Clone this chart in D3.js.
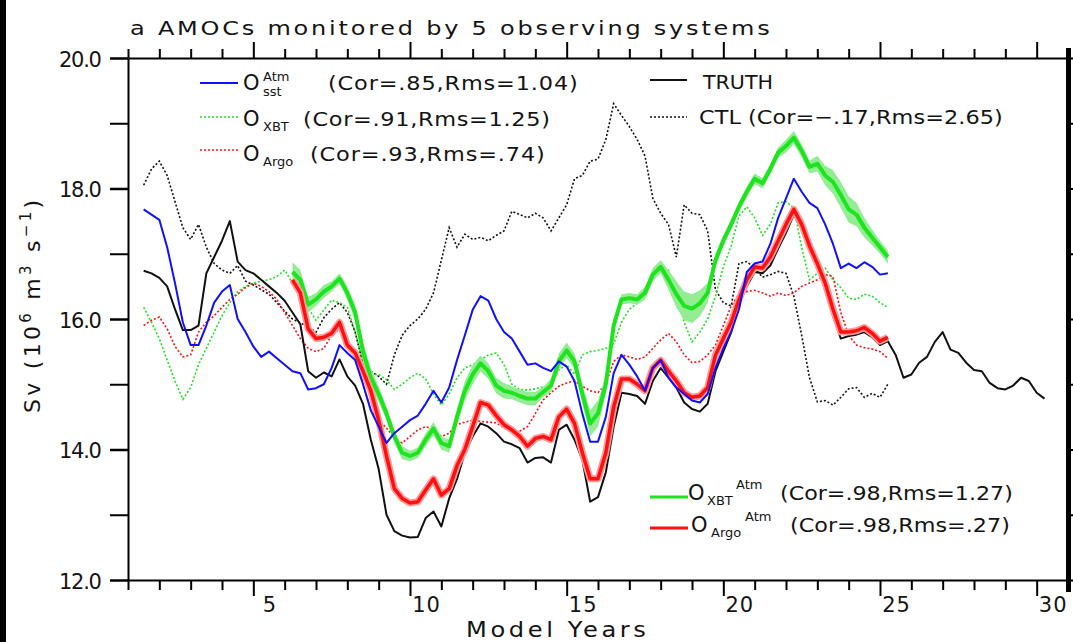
<!DOCTYPE html>
<html>
<head>
<meta charset="utf-8">
<script src="https://cdn.jsdelivr.net/npm/d3@7"></script>
<style>
  html, body { margin: 0; padding: 0; background: #fff; }
  svg { display: block; }
  text { font-family: "DejaVu Sans", "Liberation Sans", sans-serif; fill: #141414; }
</style>
</head>
<body>
<svg id="chart" width="1073" height="642"></svg>
<script>
// Sampling: quarter-year steps. Observing-system runs start at year 1.5,
// the assimilation runs with atmosphere (Atm) start at year 6.25.
const STEP = 0.25;
const START_OBS = 1.5;
const START_ATM = 6.25;

// AMOC strength (Sv)
const truth = [
  16.74, 16.70,
  16.63, 16.50, 16.15, 15.83,
  15.83, 15.90, 16.70, 16.95,
  17.20, 17.50, 16.88, 16.75,
  16.70, 16.60, 16.50, 16.40,
  16.28, 16.10, 15.92, 15.20,
  15.10, 15.18, 15.12, 15.38,
  15.12, 14.98, 14.70, 14.15,
  13.70, 13.00, 12.75, 12.68,
  12.65, 12.66, 12.95, 13.05,
  12.82, 13.25, 13.55, 13.95,
  14.20, 14.40, 14.35, 14.25,
  14.12, 14.08, 14.02, 13.80,
  13.87, 13.88, 13.80, 14.30,
  14.38, 14.15, 13.84, 13.20,
  13.27, 13.65, 14.35, 14.87,
  14.85, 14.82, 14.70, 15.05,
  15.25, 15.10, 14.95, 14.72,
  14.62, 14.58, 14.70, 15.20,
  15.50, 15.80, 16.25, 16.50,
  16.72, 16.70, 16.82, 17.08,
  17.32, 17.60, 17.38, 17.08,
  16.80, 16.45, 16.05, 15.70,
  15.74, 15.76, 15.80, 15.72,
  15.60, 15.66, 15.45, 15.10,
  15.15, 15.33, 15.42, 15.65,
  15.80, 15.53, 15.48, 15.33,
  15.22, 15.20, 15.02, 14.94,
  14.92, 14.98, 15.10, 15.05,
  14.87, 14.78
];

const ctl = [
  18.05, 18.30,
  18.42, 18.20, 17.80, 17.40,
  17.22, 17.45, 17.10, 16.85,
  16.75, 16.70, 16.82, 16.58,
  16.52, 16.45, 16.38, 16.25,
  16.12, 16.00, 15.94, 15.88,
  15.80, 16.02, 16.15, 16.25,
  16.10, 15.80, 15.30, 15.20,
  15.12, 15.00, 15.45, 15.75,
  15.90, 16.00, 16.15, 16.40,
  16.90, 17.40, 17.10, 17.30,
  17.22, 17.25, 17.20, 17.28,
  17.35, 17.65, 17.60, 17.55,
  17.62, 17.55, 17.35, 17.55,
  17.75, 18.15, 18.20, 18.42,
  18.45, 18.75, 19.30, 19.12,
  18.95, 18.75, 18.50, 17.85,
  17.62, 17.45, 16.95, 17.75,
  17.62, 17.60, 17.35, 16.45,
  16.25, 16.20, 16.85, 16.88,
  16.78, 16.64, 16.68, 16.73,
  16.70, 16.35, 15.75, 15.10,
  14.73, 14.75, 14.68, 14.80,
  14.93, 14.95, 14.80, 14.86,
  14.80, 15.00
];

const oSstAtm = [
  17.68, 17.60,
  17.52, 17.10, 16.55, 15.95,
  15.60, 15.60, 15.90, 16.25,
  16.42, 16.52, 16.00, 15.80,
  15.58, 15.42, 15.50, 15.40,
  15.30, 15.20, 15.17, 14.92,
  14.94, 15.00, 15.25, 15.60,
  15.48, 15.37, 15.00, 14.60,
  14.35, 14.10, 14.25, 14.35,
  14.45, 14.52, 14.70, 14.90,
  14.72, 14.95, 15.37, 15.75,
  16.14, 16.35, 16.28, 16.00,
  15.80, 15.70, 15.50, 15.30,
  15.32, 15.25, 15.20, 15.35,
  15.27, 15.05, 14.55, 14.12,
  14.12, 14.50, 15.17, 15.45,
  15.30, 15.12, 14.90, 15.25,
  15.37, 15.10, 14.95, 14.85,
  14.75, 14.72, 14.85, 15.25,
  15.55, 15.80, 16.15, 16.72,
  16.85, 16.88, 17.15, 17.55,
  17.85, 18.15, 17.95, 17.78,
  17.70, 17.45, 17.15, 16.78,
  16.85, 16.78, 16.87, 16.80,
  16.68, 16.70
];

const oXbt = [
  16.18, 15.95,
  15.70, 15.37, 15.05, 14.77,
  14.95, 15.30, 15.55, 15.80,
  16.05, 16.25, 16.42, 16.50,
  16.55, 16.58, 16.60, 16.65,
  16.75, 16.55, 16.40, 16.17,
  15.98, 16.14, 16.29, 16.25,
  16.18, 15.80, 15.35, 15.15,
  15.15, 15.07, 14.92, 15.00,
  15.10, 15.17, 15.08, 14.85,
  14.68, 14.85, 15.10, 15.25,
  15.30, 15.37, 15.45, 15.48,
  15.30, 15.00, 14.92, 14.91,
  14.93, 14.96, 14.96, 15.22,
  15.30, 15.15, 15.45, 15.50,
  15.52, 15.55, 15.62, 15.95,
  16.15, 16.24, 16.35, 16.62,
  16.78, 16.75, 16.40, 15.95,
  15.65, 15.80, 16.00, 16.35,
  16.80, 17.12, 17.58, 17.72,
  17.55, 17.28, 17.45, 17.78,
  17.80, 17.70, 17.10, 16.60,
  16.70, 16.78, 16.60, 16.48,
  16.32, 16.30, 16.38, 16.35,
  16.25, 16.18
];

const oArgo = [
  15.90, 15.98,
  16.03, 15.85, 15.58, 15.42,
  15.45, 15.80, 15.95, 16.05,
  16.18, 16.30, 16.38, 16.48,
  16.55, 16.50, 16.42, 16.30,
  16.10, 15.90, 15.70, 15.55,
  15.50, 15.55, 15.75, 15.85,
  15.70, 15.45, 15.00, 14.60,
  14.45, 14.33, 14.18, 14.10,
  14.20, 14.30, 14.35, 14.32,
  14.20, 14.25, 14.38, 14.42,
  14.45, 14.43, 14.42, 14.41,
  14.33, 14.27, 14.28, 14.35,
  14.55, 14.76, 14.87, 14.97,
  15.02, 15.05, 14.97, 14.90,
  14.87, 15.00, 15.35, 15.45,
  15.42, 15.38, 15.42, 15.55,
  15.68, 15.78, 15.65, 15.45,
  15.33, 15.35, 15.45, 15.60,
  15.90, 16.20, 16.38, 16.42,
  16.44, 16.40, 16.35, 16.40,
  16.36, 16.40, 16.50, 16.55,
  16.60, 16.68, 16.65, 16.10,
  15.75, 15.60, 15.56, 15.54,
  15.50, 15.40
];

const oXbtAtm = [
  16.72, 16.60, 16.22,
  16.30, 16.42, 16.50, 16.62,
  16.40, 16.10, 15.50, 15.10,
  14.85, 14.55, 14.20, 13.95,
  13.90, 13.95, 14.15, 14.32,
  14.10, 14.05, 14.50, 14.90,
  15.15, 15.32, 15.20, 14.98,
  14.90, 14.87, 14.82, 14.78,
  14.78, 14.88, 14.98, 15.35,
  15.52, 15.35, 14.85, 14.40,
  14.55, 15.00, 15.90, 16.30,
  16.32, 16.30, 16.40, 16.68,
  16.80, 16.60, 16.38, 16.20,
  16.16, 16.24, 16.40, 16.90,
  17.20, 17.45, 17.72, 17.95,
  18.15, 18.08, 18.30, 18.55,
  18.65, 18.78, 18.58, 18.33,
  18.38, 18.20, 18.10, 17.90,
  17.68, 17.60, 17.40, 17.25,
  17.10, 16.95
];

// ensemble spread (half width, Sv) around O_XBT^Atm
const oXbtAtmSpread = [
  0.15, 0.15, 0.12,
  0.10, 0.10, 0.08, 0.08,
  0.10, 0.12, 0.15, 0.15,
  0.12, 0.10, 0.10, 0.10,
  0.08, 0.08, 0.10, 0.10,
  0.10, 0.10, 0.12, 0.15,
  0.15, 0.12, 0.12, 0.12,
  0.12, 0.10, 0.10, 0.10,
  0.10, 0.08, 0.10, 0.12,
  0.12, 0.12, 0.15, 0.20,
  0.20, 0.15, 0.10, 0.08,
  0.08, 0.08, 0.10, 0.10,
  0.10, 0.15, 0.20, 0.22,
  0.22, 0.20, 0.15, 0.10,
  0.08, 0.08, 0.08, 0.08,
  0.08, 0.08, 0.08, 0.08,
  0.10, 0.10, 0.10, 0.10,
  0.12, 0.15, 0.18, 0.20,
  0.20, 0.18, 0.15, 0.12,
  0.10, 0.10
];

const oArgoAtm = [
  16.60, 16.40, 15.85,
  15.70, 15.72, 15.78, 15.95,
  15.60, 15.48, 15.20, 14.90,
  14.45, 13.90, 13.40, 13.25,
  13.18, 13.20, 13.38, 13.55,
  13.30, 13.40, 13.75, 14.00,
  14.35, 14.72, 14.68, 14.52,
  14.38, 14.30, 14.20, 14.05,
  14.17, 14.20, 14.15, 14.50,
  14.62, 14.40, 13.95, 13.55,
  13.55, 13.95, 14.65, 15.08,
  15.08, 15.00, 14.90, 15.25,
  15.37, 15.20, 15.05, 14.87,
  14.80, 14.82, 14.95, 15.45,
  15.70, 15.95, 16.30, 16.60,
  16.80, 16.78, 16.95, 17.20,
  17.45, 17.68, 17.45, 17.12,
  16.85, 16.55, 16.15, 15.80,
  15.80, 15.82, 15.87, 15.78,
  15.66, 15.72
];

const yearTicks = d3.range(1, 32);
const svTicks = d3.range(12, 21);

// ---------------------------------------------------------------
const svg = d3.select("#chart");
const x = d3.scaleLinear().domain([1, 31]).range([128, 1068]);
const y = d3.scaleLinear().domain([12, 20]).range([580, 58]);

const withTime = (vals, t0) => vals.map((v, i) => ({ t: t0 + i * STEP, v }));
const line = d3.line().x(d => x(d.t)).y(d => y(d.v));
const band = d3.area().x(d => x(d.t)).y0(d => y(d.v - d.s)).y1(d => y(d.v + d.s));

// widen a text (slight glyph stretch + tracking) so it spans w pixels
function fit(sel, w, maxStretch) {
  const k0 = maxStretch || 1;
  sel.attr("letter-spacing", 0);
  const n = Array.from(sel.text()).length;
  const nat = sel.node().getComputedTextLength();
  const k = Math.max(1, Math.min(k0, w / nat));
  if (k > 1) {
    const x0 = +sel.attr("x"), y0 = +sel.attr("y");
    sel.attr("x", 0).attr("y", 0).attr("transform", `translate(${x0},${y0}) scale(${k.toFixed(3)},1)`);
  }
  sel.attr("letter-spacing", ((w / k - nat) / Math.max(1, n - 1)).toFixed(2));
  return sel;
}

// frame bar at the left edge
svg.append("rect").attr("x", 0).attr("y", 0).attr("width", 6).attr("height", 642).attr("fill", "#000");

// ---- series ----
const plot = svg.append("g");
const colors = { green: "#1ee41e", greenBand: "#94ec94", red: "#ff1010", redHalo: "#ff9a9a", blue: "#1010ff" };

plot.append("path").datum(withTime(ctl, START_OBS)).attr("d", line)
  .attr("fill", "none").attr("stroke", "#111").attr("stroke-width", 1.6).attr("stroke-dasharray", "2,2");
plot.append("path").datum(withTime(oXbt, START_OBS)).attr("d", line)
  .attr("fill", "none").attr("stroke", colors.green).attr("stroke-width", 1.6).attr("stroke-dasharray", "2,2");
plot.append("path").datum(withTime(oArgo, START_OBS)).attr("d", line)
  .attr("fill", "none").attr("stroke", colors.red).attr("stroke-width", 1.6).attr("stroke-dasharray", "2,2");

const xbtAtmPts = oXbtAtm.map((v, i) => ({ t: START_ATM + i * STEP, v, s: oXbtAtmSpread[i] }));
plot.append("path").datum(xbtAtmPts).attr("d", band).attr("fill", colors.greenBand);
plot.append("path").datum(xbtAtmPts).attr("d", line)
  .attr("fill", "none").attr("stroke", colors.green).attr("stroke-width", 4).attr("stroke-linejoin", "round");

plot.append("path").datum(withTime(truth, START_OBS)).attr("d", line)
  .attr("fill", "none").attr("stroke", "#111").attr("stroke-width", 2).attr("stroke-linejoin", "round");

const argoAtmPts = withTime(oArgoAtm, START_ATM);
plot.append("path").datum(argoAtmPts).attr("d", line)
  .attr("fill", "none").attr("stroke", colors.redHalo).attr("stroke-width", 7).attr("stroke-linejoin", "round");
plot.append("path").datum(argoAtmPts).attr("d", line)
  .attr("fill", "none").attr("stroke", colors.red).attr("stroke-width", 3.5).attr("stroke-linejoin", "round");

plot.append("path").datum(withTime(oSstAtm, START_OBS)).attr("d", line)
  .attr("fill", "none").attr("stroke", colors.blue).attr("stroke-width", 2).attr("stroke-linejoin", "round");

// ---- axes ----
function clean(g) { g.attr("font-family", null).attr("font-size", null); }

const gBottom = svg.append("g").attr("transform", "translate(0,580)")
  .call(d3.axisBottom(x).tickValues(yearTicks).tickSize(10).tickSizeOuter(0)
    .tickFormat(d => d % 5 === 0 ? d : ""));
clean(gBottom);
gBottom.selectAll(".tick line").attr("y2", d => d % 5 === 0 ? 16 : 10).attr("stroke-width", 2);
gBottom.selectAll(".tick text").attr("x", 16).attr("y", 32).attr("dy", 0)
  .style("font-size", "21px").attr("letter-spacing", 1);
gBottom.select(".domain").attr("stroke-width", 2);

const gTop = svg.append("g").attr("transform", "translate(0,58)")
  .call(d3.axisTop(x).tickValues(yearTicks).tickSize(9).tickSizeOuter(0).tickFormat(""));
clean(gTop);
gTop.selectAll(".tick line").attr("y2", d => d % 5 === 0 ? -16 : -9).attr("stroke-width", 2);
gTop.select(".domain").attr("stroke-width", 2);

const gLeft = svg.append("g").attr("transform", "translate(128,0)")
  .call(d3.axisLeft(y).tickValues(svTicks).tickSize(18).tickSizeOuter(0)
    .tickFormat(d => d % 2 === 0 ? d.toFixed(1) : ""));
clean(gLeft);
gLeft.selectAll(".tick line").attr("stroke-width", d => d % 2 === 0 ? 2.5 : 2);
gLeft.selectAll(".tick text").attr("text-anchor", "start").attr("x", -69).attr("y", 8).attr("dy", 0)
  .style("font-size", "21px")
  .each(function (d) { if (d % 2 === 0) fit(d3.select(this), 43); });
gLeft.select(".domain").attr("stroke-width", 2);

const gRight = svg.append("g").attr("transform", "translate(1068,0)")
  .call(d3.axisRight(y).tickValues(svTicks).tickSize(9).tickSizeOuter(0).tickFormat(""));
clean(gRight);
gRight.selectAll(".tick line").attr("stroke-width", 2);
gRight.select(".domain").remove();
svg.append("line").attr("x1", 1068.5).attr("x2", 1068.5).attr("y1", 48).attr("y2", 592)
  .attr("stroke", "#000").attr("stroke-width", 5);

// ---- titles ----
fit(svg.append("text").attr("x", 130).attr("y", 35).style("font-size", "20px")
  .text("a AMOCs monitored by 5 observing systems"), 640, 1.2);

fit(svg.append("text").attr("x", 466).attr("y", 637).style("font-size", "21px")
  .text("Model Years"), 180, 1.15);

const yl = svg.append("text").attr("transform", "translate(39.5,413) rotate(-90)")
  .style("font-size", "22px");
yl.append("tspan").text("Sv (10");
yl.append("tspan").attr("dy", -9).style("font-size", "15px").text("6");
yl.append("tspan").attr("dy", 9).text(" m");
yl.append("tspan").attr("dy", -9).style("font-size", "15px").text("3");
yl.append("tspan").attr("dy", 9).text(" s");
yl.append("tspan").attr("dy", -9).style("font-size", "15px").text("\u22121");
yl.append("tspan").attr("dy", 9).text(")");
fit(yl, 213);

// ---- legends ----
function legendSample(x1, x2, yy, stroke, width, dash) {
  svg.append("line").attr("x1", x1).attr("x2", x2).attr("y1", yy).attr("y2", yy)
    .attr("stroke", stroke).attr("stroke-width", width).attr("stroke-dasharray", dash || null);
}
function txt(xx, yy, s, size, w, k) {
  const t = svg.append("text").attr("x", xx).attr("y", yy).style("font-size", size + "px").text(s);
  if (w) fit(t, w, k || 1.12);
  return t;
}

// upper-left column
legendSample(200, 238, 83, colors.blue, 2);
txt(243, 90, "O", 21);
txt(263, 96, "sst", 13);
txt(263, 81, "Atm", 13);
txt(328, 90, "(Cor=.85,Rms=1.04)", 20, 250);

legendSample(200, 238, 117, colors.green, 1.6, "2,2");
txt(243, 126, "O", 21);
txt(263, 131, "XBT", 13);
txt(303, 126, "(Cor=.91,Rms=1.25)", 20, 247);

legendSample(200, 238, 150, colors.red, 1.6, "2,2");
txt(243, 161, "O", 21);
txt(263, 166, "Argo", 13);
txt(310, 161, "(Cor=.93,Rms=.74)", 20, 235);

// upper-right column
legendSample(650, 687, 80, "#111", 2);
txt(703, 89, "TRUTH", 20, 70);
legendSample(650, 687, 117, "#111", 1.6, "2,2");
txt(699, 124, "CTL (Cor=\u2212.17,Rms=2.65)", 20, 304);

// lower-right
legendSample(650, 688, 497, colors.green, 3);
txt(688, 500, "O", 21);
txt(707, 505, "XBT", 13);
txt(736, 489, "Atm", 13);
txt(780, 500, "(Cor=.98,Rms=1.27)", 20, 233);

legendSample(650, 688, 528, colors.red, 3);
txt(691, 532, "O", 21);
txt(711, 537, "Argo", 13);
txt(745, 521, "Atm", 13);
txt(790, 532, "(Cor=.98,Rms=.27)", 20, 220);
</script>
</body>
</html>
